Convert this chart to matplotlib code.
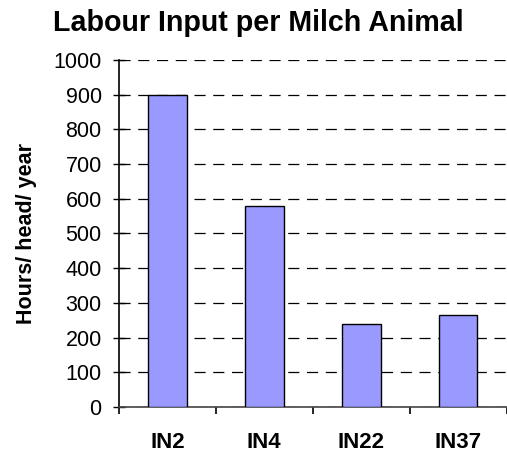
import numpy as np
import matplotlib.pyplot as plt

# heures de travail par animal laitier
villages = ['IN2', 'IN4', 'IN22', 'IN37']
heures = [900, 580, 238, 264]
graduations = list(range(0, 1001, 100))

plt.rcParams['font.family'] = ['Liberation Sans', 'DejaVu Sans']
plt.rcParams['lines.scale_dashes'] = False

fig = plt.figure(figsize=(5.07, 4.54), dpi=100)
ax = fig.add_axes([119/507, 1 - 407/454, 387.5/507, 347/454])

x = np.arange(len(villages))
ax.bar(x, heures, width=0.4, color='#9999ff', edgecolor='black', linewidth=1.0, zorder=3)

ax.set_xlim(-0.5, len(villages) - 0.5)
ax.set_ylim(0, 1000)
ax.set_yticks(graduations)
ax.set_yticklabels([str(g) for g in graduations], fontsize=15.5)
ax.set_xticks(x)
ax.set_xticklabels(villages, fontsize=16, fontweight='bold')
# graduations x entre les barres
ax.set_xticks(np.arange(len(villages) + 1) - 0.5, minor=True)
ax.tick_params(axis='x', which='major', length=0, pad=18)
ax.tick_params(axis='x', which='minor', direction='out', length=5, width=1.2)
ax.tick_params(axis='y', direction='inout', length=9, width=1, pad=8)

for s in ['top', 'right']:
    ax.spines[s].set_visible(False)
ax.spines['left'].set_linewidth(1.2)
ax.spines['bottom'].set_linewidth(1.2)
ax.spines['bottom'].set_color('#444444')

ax.yaxis.grid(True, color='black', linewidth=0.9, linestyle=(0, (8, 5.5)), zorder=0)
ax.set_axisbelow(True)

ax.set_ylabel('Hours/ head/ year', fontsize=15.5, fontweight='bold', labelpad=12)
fig.text(258/507, 1 - 23/454, 'Labour Input per Milch Animal', fontsize=20.6,
         fontweight='bold', ha='center', va='center')

fig.savefig('out.png', dpi=100)
